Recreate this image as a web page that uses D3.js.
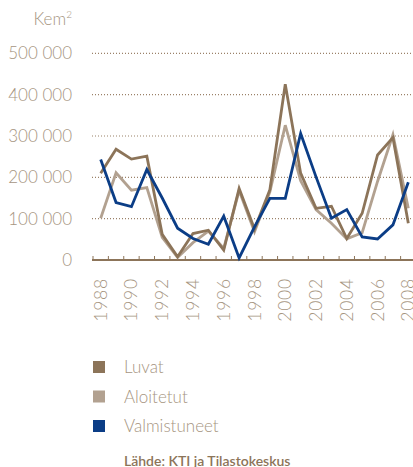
<!DOCTYPE html>
<html>
<head>
<meta charset="utf-8">
<script src="https://cdn.jsdelivr.net/npm/d3@7"></script>
<style>
  body { margin: 0; background: #fff; }
  svg { display: block; font-family: Lato, "Open Sans", sans-serif; }
</style>
</head>
<body>
<div id="chart"></div>
<script>
// data
const years = [1988, 1989, 1990, 1991, 1992, 1993, 1994, 1995, 1996, 1997, 1998,
  1999, 2000, 2001, 2002, 2003, 2004, 2005, 2006, 2007, 2008];
const luvat = [210000, 268000, 244000, 251000, 62000, 8000, 64000, 72000, 24000, 173000, 75000,
  170000, 425000, 210000, 125000, 130000, 52000, 113000, 254000, 296000, 89000];
const aloitetut = [101000, 211000, 169000, 175000, 55000, 6000, 42000, 70000, 28000, 168000, 68000,
  165000, 326000, 192000, 122000, 89000, 51000, 66000, 190000, 303000, 125000];
const valmistuneet = [243000, 139000, 129000, 219000, 150000, 77000, 52000, 38000, 106000, 5000, 80000,
  149000, 149000, 306000, 201000, 101000, 122000, 56000, 51000, 85000, 188000];
const yTicks = [0, 100000, 200000, 300000, 400000, 500000];
const yearLabels = [1988, 1990, 1992, 1994, 1996, 1998, 2000, 2002, 2004, 2006, 2008];

const series = [
  { name: 'Aloitetut', values: aloitetut, color: '#b2a190' },
  { name: 'Luvat', values: luvat, color: '#8c7459' },
  { name: 'Valmistuneet', values: valmistuneet, color: '#0b3d86' }
];
const legendOrder = ['Luvat', 'Aloitetut', 'Valmistuneet'];

const W = 413, H = 467;
const textColor = '#a6957f';

const svg = d3.select('#chart').append('svg')
  .attr('width', W)
  .attr('height', H);

const x = d3.scaleBand().domain(years).range([93, 416]).padding(0);
const y = d3.scaleLinear().domain([0, 500000]).range([260, 53.3]);
const cx = d => x(d) + x.bandwidth() / 2;

const fmt = v => v === 0 ? '0' : d3.format(',')(v).replace(/,/g, ' ');

// gridlines
svg.append('g')
  .selectAll('line')
  .data(yTicks.filter(d => d > 0))
  .join('line')
  .attr('x1', 92).attr('x2', W)
  .attr('y1', d => y(d)).attr('y2', d => y(d))
  .attr('stroke', '#9a8168')
  .attr('stroke-width', 1.2)
  .attr('stroke-dasharray', '1,2');

// y labels
svg.append('g')
  .selectAll('text')
  .data(yTicks)
  .join('text')
  .attr('x', 72)
  .attr('y', d => y(d))
  .attr('dy', '0.36em')
  .attr('text-anchor', 'end')
  .attr('fill', textColor)
  .attr('font-size', 17)
  .attr('font-weight', 300)
  .text(fmt);

// unit label
const unit = svg.append('text')
  .attr('x', 72).attr('y', 25)
  .attr('text-anchor', 'end')
  .attr('fill', textColor)
  .attr('font-size', 17)
  .attr('font-weight', 300);
unit.append('tspan').text('Kem');
unit.append('tspan').attr('font-size', 10).attr('dy', -7).text('2');

// x axis
svg.append('line')
  .attr('x1', 92).attr('x2', W)
  .attr('y1', y(0)).attr('y2', y(0))
  .attr('stroke', '#8c7459')
  .attr('stroke-width', 2);

svg.append('g')
  .selectAll('line')
  .data(years)
  .join('line')
  .attr('x1', d => x(d)).attr('x2', d => x(d))
  .attr('y1', y(0) - 4).attr('y2', y(0))
  .attr('stroke', '#8c7459')
  .attr('stroke-width', 1);

svg.append('g')
  .selectAll('text')
  .data(yearLabels)
  .join('text')
  .attr('transform', d => `translate(${cx(d) + 6},278) rotate(-90)`)
  .attr('text-anchor', 'end')
  .attr('fill', textColor)
  .attr('font-size', 17.5)
  .attr('font-weight', 300)
  .attr('letter-spacing', 0.8)
  .text(d => d);

// lines
const line = d3.line()
  .x((d, i) => cx(years[i]))
  .y(d => y(d));

svg.append('g')
  .selectAll('path')
  .data(series)
  .join('path')
  .attr('d', d => line(d.values))
  .attr('fill', 'none')
  .attr('stroke', d => d.color)
  .attr('stroke-width', 2.8)
  .attr('stroke-linejoin', 'miter');

// legend
const legend = svg.append('g')
  .selectAll('g')
  .data(legendOrder.map(n => series.find(s => s.name === n)))
  .join('g')
  .attr('transform', (d, i) => `translate(93,${361 + i * 29.5})`);

legend.append('rect')
  .attr('width', 12).attr('height', 12)
  .attr('fill', d => d.color);

legend.append('text')
  .attr('x', 31).attr('y', 6)
  .attr('dy', '0.36em')
  .attr('fill', textColor)
  .attr('font-size', 17)
  .attr('font-weight', 300)
  .text(d => d.name);

// source
svg.append('text')
  .attr('x', 124).attr('y', 466)
  .attr('fill', '#8c7459')
  .attr('font-size', 14)
  .attr('font-weight', 600)
  .text('Lähde: KTI ja Tilastokeskus');
</script>
</body>
</html>
